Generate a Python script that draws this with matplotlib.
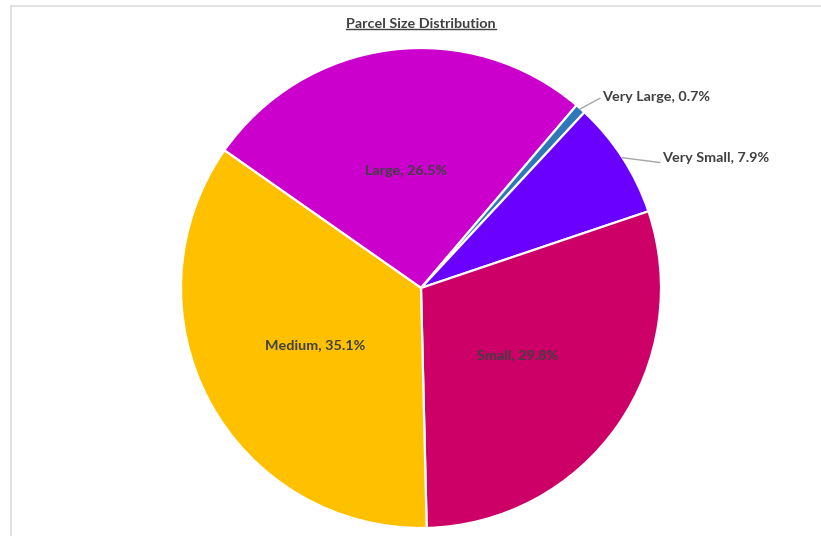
import numpy as np
import matplotlib
matplotlib.use("Agg")
import matplotlib.pyplot as plt
from matplotlib.lines import Line2D

# Parcel size shares (percent), in drawing order (clockwise)
categories = ["Large", "Very Large", "Very Small", "Small", "Medium"]
shares = [26.5, 0.7, 7.9, 29.8, 35.1]
colors = ["#CC00CC", "#2E78B8", "#6A00FF", "#CC0066", "#FFC000"]

plt.rcParams["font.family"] = ["Lato", "DejaVu Sans"]

W, H = 821, 536
fig = plt.figure(figsize=(W / 100, H / 100), dpi=100)
fig.patch.set_facecolor("white")

# light chart-area border (left and top edges)
fig.add_artist(Line2D([11 / W, 11 / W], [0, 1 - 6 / H], transform=fig.transFigure,
                      color="#DDDDDD", lw=1.2))
fig.add_artist(Line2D([11 / W, 1], [1 - 6 / H, 1 - 6 / H], transform=fig.transFigure,
                      color="#DDDDDD", lw=1.2))

cx, cy, R = 421, 288, 240
ax = fig.add_axes([(cx - R) / W, (H - cy - R) / H, 2 * R / W, 2 * R / H])

wedges, _ = ax.pie(shares, colors=colors, startangle=145, counterclock=False,
                   radius=1.0, wedgeprops=dict(edgecolor="white", linewidth=1.6))
ax.set_xlim(-1, 1)
ax.set_ylim(-1, 1)
ax.set_aspect("equal")
ax.axis("off")

# inside labels sit on the wedge bisector at these radius fractions
inside_r = {"Large": 0.49, "Small": 0.49, "Medium": 0.50}
# outside labels: text anchor and leader-line end point
outside_pos = {"Very Large": (0.755, 0.795), "Very Small": (1.003, 0.54)}
outside_end = {"Very Large": (0.745, 0.79), "Very Small": (0.995, 0.523)}

txt_kw = dict(fontsize=10.4, fontweight="bold", color="#404040")
for w, cat, val in zip(wedges, categories, shares):
    mid = np.deg2rad((w.theta1 + w.theta2) / 2)
    label = f"{cat}, {val:.1f}%"
    if cat in inside_r:
        r = inside_r[cat]
        ax.text(r * np.cos(mid), r * np.sin(mid), label, ha="center", va="center",
                **txt_kw)
    else:
        x0, y0 = np.cos(mid), np.sin(mid)
        x1, y1 = outside_end[cat]
        ax.plot([x0, x1], [y0, y1], color="#A6A6A6", lw=1.0, clip_on=False)
        tx, ty = outside_pos[cat]
        ax.text(tx, ty, label, ha="left", va="center", **txt_kw)

fig.text(421 / W, 1 - 24 / H, "Parcel Size Distribution", ha="center", va="center",
         fontsize=10.4, fontweight="bold", color="#404040")
# underline for the title
fig.canvas.draw()
t = fig.texts[-1]
bb = t.get_window_extent()
fig.add_artist(Line2D([bb.x0 / W, bb.x1 / W], [(bb.y0 + 1) / H, (bb.y0 + 1) / H],
                      transform=fig.transFigure, color="#404040", lw=1.0))

fig.savefig("out.png", dpi=100, facecolor="white")
